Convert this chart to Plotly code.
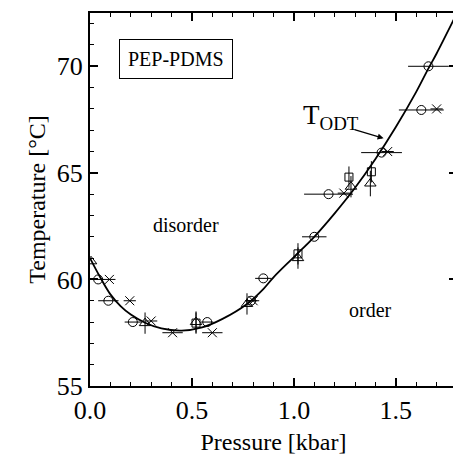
import plotly.graph_objects as go

# Data
circ_x = [0.04, 0.09, 0.21, 0.575, 0.79, 0.85, 1.10, 1.17, 1.43, 1.625, 1.66]
circ_y = [60.0, 59.0, 58.0, 58.0, 59.0, 60.05, 62.0, 64.0, 65.95, 67.95, 70.0]
circ_ex = [0.03, 0.05, 0.04, 0.03, 0.03, 0.04, 0.06, 0.12, 0.10, 0.11, 0.10]

cross_x = [0.095, 0.195, 0.30, 0.405, 0.60, 0.80, 1.245, 1.46, 1.70]
cross_y = [60.0, 59.0, 58.05, 57.5, 57.5, 59.0, 64.05, 66.0, 68.0]
cross_ex = [0.03, 0.03, 0.03, 0.05, 0.05, 0.03, 0.03, 0.03, 0.03]

tri_x = [0.005, 0.27, 0.52, 0.77, 1.02, 1.28, 1.375]
tri_y = [60.85, 57.95, 58.0, 58.85, 61.0, 64.35, 64.5]
tri_ey = [0.0, 0.5, 0.5, 0.5, 0.5, 0.5, 0.6]

sq_x = [0.52, 1.02, 1.27, 1.38]
sq_y = [57.95, 61.2, 64.8, 65.05]
sq_ey = [0.5, 0.5, 0.5, 0.5]

curve_x = [0.0, 0.05, 0.10, 0.15, 0.20, 0.27, 0.35, 0.45, 0.55, 0.65, 0.77, 0.85,
           0.90, 1.0, 1.1, 1.2, 1.3, 1.4, 1.5, 1.6, 1.66, 1.7, 1.8]
curve_y = [61.0, 60.1, 59.3, 58.75, 58.35, 57.97, 57.7, 57.6, 57.75, 58.15, 58.85, 59.55,
           60.1, 61.05, 62.0, 63.1, 64.3, 65.65, 67.15, 68.8, 69.9, 70.6, 72.5]

x_ticks = [0.0, 0.5, 1.0, 1.5]
x_ticklabels = ["0.0", "0.5", "1.0", "1.5"]
y_ticks = [55, 60, 65, 70]
y_ticklabels = ["55", "60", "65", "70"]

FONT = "Liberation Serif, Times New Roman, serif"

fig = go.Figure()

fig.add_trace(go.Scatter(x=curve_x, y=curve_y, mode="lines",
                         line=dict(color="black", width=1.8, shape="spline"),
                         hoverinfo="skip", showlegend=False))

fig.add_trace(go.Scatter(x=circ_x, y=circ_y, mode="markers",
                         marker=dict(symbol="circle-open", size=9, color="black",
                                     line=dict(width=1, color="black")),
                         error_x=dict(type="data", array=circ_ex, color="black",
                                      thickness=1, width=0),
                         showlegend=False))

fig.add_trace(go.Scatter(x=cross_x, y=cross_y, mode="markers",
                         marker=dict(symbol="x-thin-open", size=9, color="black",
                                     line=dict(width=1, color="black")),
                         error_x=dict(type="data", array=cross_ex, color="black",
                                      thickness=1, width=0),
                         showlegend=False))

fig.add_trace(go.Scatter(x=tri_x, y=tri_y, mode="markers",
                         marker=dict(symbol="triangle-up-open", size=10, color="black",
                                     line=dict(width=1, color="black")),
                         error_y=dict(type="data", array=tri_ey, color="black",
                                      thickness=1, width=0),
                         showlegend=False))

fig.add_trace(go.Scatter(x=sq_x, y=sq_y, mode="markers",
                         marker=dict(symbol="square-open", size=8, color="black",
                                     line=dict(width=1, color="black")),
                         error_y=dict(type="data", array=sq_ey, color="black",
                                      thickness=1, width=0),
                         showlegend=False))

axis_common = dict(
    showgrid=False, zeroline=False, showline=True, linecolor="black", linewidth=2,
    mirror="ticks", ticks="inside", ticklen=8, tickwidth=1.5, tickcolor="black",
    tickfont=dict(family=FONT, size=26, color="black"),
)

fig.update_xaxes(range=[0, 1.8], tickvals=x_ticks, ticktext=x_ticklabels,
                 minor=dict(dtick=0.1, ticks="inside", ticklen=4, tickwidth=1.2,
                            tickcolor="black", showgrid=False),
                 title=dict(text="Pressure [kbar]", font=dict(family=FONT, size=24, color="black"),
                            standoff=9),
                 **axis_common)
fig.update_yaxes(range=[55, 72.5], tickvals=y_ticks, ticktext=y_ticklabels,
                 minor=dict(dtick=1, ticks="inside", ticklen=4, tickwidth=1.2,
                            tickcolor="black", showgrid=False),
                 title=dict(text="Temperature [°C]", font=dict(family=FONT, size=24, color="black"),
                            standoff=4),
                 **axis_common)

fig.add_annotation(x=0.42, y=70.35, xref="x", yref="y", text="PEP-PDMS", showarrow=False,
                   font=dict(family=FONT, size=20, color="black"),
                   bordercolor="black", borderwidth=1, borderpad=8, bgcolor="white")
fig.add_annotation(x=0.473, y=62.55, text="disorder", showarrow=False,
                   font=dict(family=FONT, size=20, color="black"))
fig.add_annotation(x=1.376, y=58.57, text="order", showarrow=False,
                   font=dict(family=FONT, size=20, color="black"))
fig.add_annotation(x=1.18, y=67.6, text="T<sub>ODT</sub>", showarrow=False,
                   font=dict(family=FONT, size=27, color="black"))
fig.add_annotation(x=1.44, y=66.62, ax=1.29, ay=67.05, xref="x", yref="y",
                   axref="x", ayref="y", text="", showarrow=True,
                   arrowhead=2, arrowsize=1, arrowwidth=1.2, arrowcolor="black")

fig.update_layout(width=453, height=448, margin=dict(l=82, r=2, t=5, b=70),
                  plot_bgcolor="white", paper_bgcolor="white",
                  font=dict(family=FONT, color="black"))

fig.write_html("out.html")
